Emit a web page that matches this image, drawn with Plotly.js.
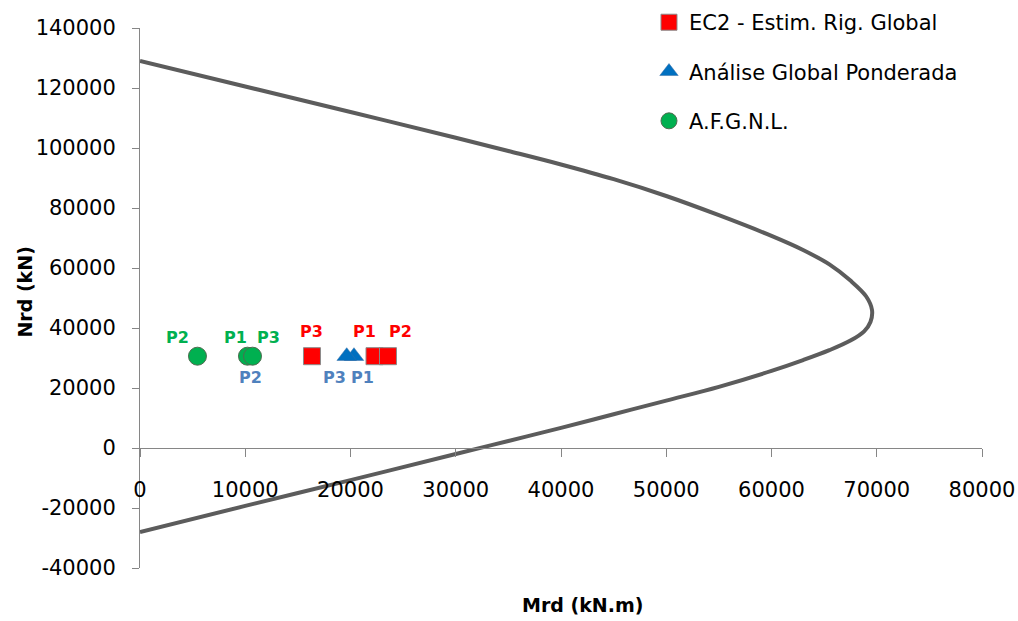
<!DOCTYPE html>
<html>
<head>
<meta charset="utf-8">
<script src="https://cdn.plot.ly/plotly-3.0.1.min.js"></script>
<style>html,body{margin:0;padding:0;background:#fff;}#chart{width:1018px;height:621px;}</style>
</head>
<body>
<div id="chart"></div>
<script>
// Interaction curve (Mrd, Nrd)
const curveMrd = [0, 10000, 20000, 30000, 35000, 40000, 45000, 50000, 55000, 60000, 63000, 65500, 67500, 69000, 69550, 69400, 68800, 67500, 65500, 63000, 60000, 55000, 50000, 45000, 40000, 35000, 30000, 20000, 10000, 0];
const curveNrd = [129000, 120500, 112000, 103400, 99000, 94500, 89600, 84000, 77600, 70700, 66000, 61200, 55800, 50500, 46000, 42000, 38900, 35800, 32600, 29300, 25700, 20400, 15800, 11250, 6700, 2350, -2000, -10700, -19300, -28000];

// Design points
const ec2Name = "EC2 - Estim. Rig. Global";
const ec2Mrd = [22280, 23560, 16340];
const ec2Nrd = [30600, 30600, 30600];
const ec2Labels = ["P1", "P2", "P3"];

const agpName = "Análise Global Ponderada";
const agpMrd = [20330, 10450, 19640];
const agpNrd = [30600, 30600, 30600];
const agpLabels = ["P1", "P2", "P3"];

const afgName = "A.F.G.N.L.";
const afgMrd = [10210, 5460, 10690];
const afgNrd = [30600, 30600, 30600];
const afgLabels = ["P1", "P2", "P3"];

const xTicks = [0, 10000, 20000, 30000, 40000, 50000, 60000, 70000, 80000];
const yTicks = [-40000, -20000, 0, 20000, 40000, 60000, 80000, 100000, 120000, 140000];

// label placement (style, pixel shifts)
const ec2Shift = {dx: [-10, 13, 0], dy: 25};
const agpShift = {dx: [9, 1, -12], dy: -21};
const afgShift = {dx: [-12, -20, 16], dy: 19};

const FONT = "DejaVu Sans, sans-serif";
const RED = "#FF0000", BLUE = "#0070C0", GREEN = "#00B050";

const traces = [
  {x: curveMrd, y: curveNrd, mode: "lines", line: {color: "#5c5c5c", width: 4, shape: "spline", smoothing: 1}, showlegend: false, hoverinfo: "skip"},
  {x: agpMrd, y: agpNrd, name: agpName, mode: "markers", legendgroup: "b", legendrank: 2,
   marker: {symbol: "triangle-up", size: 17, color: BLUE, line: {color: "#3a6ea5", width: 0.5}}},
  {x: ec2Mrd, y: ec2Nrd, name: ec2Name, mode: "markers", legendgroup: "a", legendrank: 1,
   marker: {symbol: "square", size: 17, color: RED, line: {color: "#8a8a8a", width: 1}}},
  {x: afgMrd, y: afgNrd, name: afgName, mode: "markers", legendgroup: "c", legendrank: 3,
   marker: {symbol: "circle", size: 18, color: GREEN, line: {color: "#4f6b4f", width: 1}}}
];

const annotations = [];
function addLabels(xs, ys, labels, shift, color) {
  for (let i = 0; i < xs.length; i++) {
    annotations.push({x: xs[i], y: ys[i], xref: "x", yref: "y", text: "<b>" + labels[i] + "</b>", showarrow: false,
      xshift: shift.dx[i], yshift: shift.dy, font: {family: FONT, size: 16, color: color}});
  }
}
addLabels(ec2Mrd, ec2Nrd, ec2Labels, ec2Shift, RED);
addLabels(agpMrd, agpNrd, agpLabels, agpShift, "#4F81BD");
addLabels(afgMrd, afgNrd, afgLabels, afgShift, GREEN);

annotations.push({xref: "paper", yref: "paper", x: 0.526, y: -0.068, yanchor: "middle", text: "<b>Mrd (kN.m)</b>", showarrow: false,
  font: {family: FONT, size: 19, color: "#000"}});
annotations.push({xref: "paper", yref: "paper", x: -0.136, y: 0.511, xanchor: "center", yanchor: "middle", text: "<b>Nrd (kN)</b>", textangle: -90, showarrow: false,
  font: {family: FONT, size: 19, color: "#000"}});

const layout = {
  width: 1018, height: 621,
  margin: {l: 140, r: 36, t: 28, b: 53, autoexpand: false},
  paper_bgcolor: "#fff", plot_bgcolor: "#fff",
  font: {family: FONT, size: 21, color: "#000"},
  showlegend: true,
  legend: {x: 0.6045, y: 1.048, xanchor: "left", yanchor: "top", tracegroupgap: 19, bgcolor: "rgba(0,0,0,0)",
    font: {family: FONT, size: 21, color: "#000"}},
  xaxis: {range: [0, 80000], tickvals: xTicks, ticktext: xTicks.map(String), showgrid: false, zeroline: false,
    showline: true, linecolor: "#868686", linewidth: 1, ticks: "outside", ticklen: 8, tickcolor: "#868686",
    anchor: "free", position: 40000 / 180000, ticklabelstandoff: 15, tickfont: {family: FONT, size: 21, color: "#000"}},
  yaxis: {range: [-40000, 140000], tickvals: yTicks, ticktext: yTicks.map(String), showgrid: false, zeroline: false,
    showline: true, linecolor: "#868686", linewidth: 1, ticks: "outside", ticklen: 7, tickcolor: "#868686",
    ticklabelstandoff: 12, tickfont: {family: FONT, size: 21, color: "#000"}},
  annotations: annotations
};

Plotly.newPlot("chart", traces, layout, {displayModeBar: false, staticPlot: true});
</script>
</body>
</html>
